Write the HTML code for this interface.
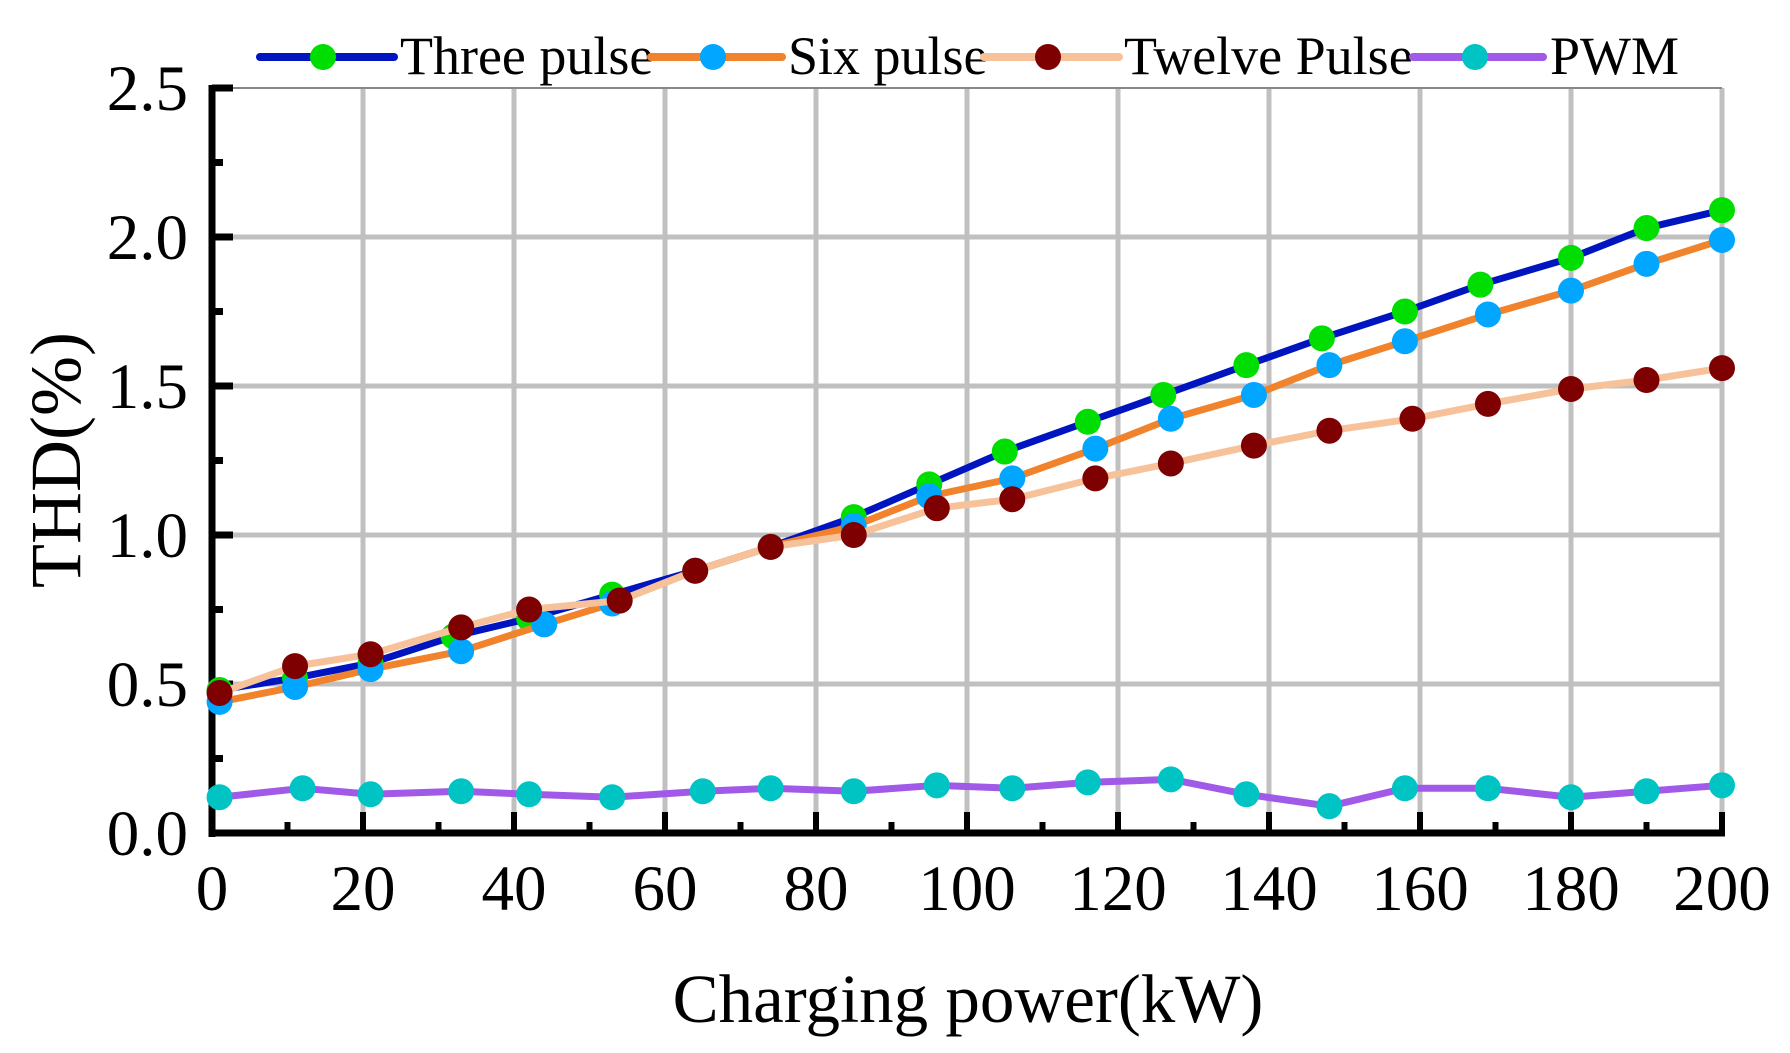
<!DOCTYPE html>
<html><head><meta charset="utf-8"><style>
html,body{margin:0;padding:0;background:#fff}
svg{display:block;font-family:"Liberation Serif",serif}
</style></head><body>
<svg id="chart" width="1790" height="1053" viewBox="0 0 1790 1053" xmlns="http://www.w3.org/2000/svg">
<g id="grid"></g>
<g id="axes"></g>
<g id="series"></g>
<g id="legend"></g>
<text x="968" y="1022" font-size="69" text-anchor="middle">Charging power(kW)</text>
<text transform="translate(80,460) rotate(-90)" font-size="72" text-anchor="middle">THD(%)</text>
</svg>
<script>
const xTicks=[0,20,40,60,80,100,120,140,160,180,200];
const yTicks=[0.0,0.5,1.0,1.5,2.0,2.5];
const seriesNames=["Three pulse","Six pulse","Twelve Pulse","PWM"];
const threeX=[1,11,21,32,42,53,64,74,85,95,105,116,126,137,147,158,168,180,190,200];
const threeY=[0.48,0.52,0.57,0.66,0.72,0.80,0.88,0.96,1.06,1.17,1.28,1.38,1.47,1.57,1.66,1.75,1.84,1.93,2.03,2.09];
const sixX=[1,11,21,33,44,53,64,74,85,95,106,117,127,138,148,158,169,180,190,200];
const sixY=[0.44,0.49,0.55,0.61,0.70,0.77,0.88,0.96,1.03,1.13,1.19,1.29,1.39,1.47,1.57,1.65,1.74,1.82,1.91,1.99];
const twelveX=[1,11,21,33,42,54,64,74,85,96,106,117,127,138,148,159,169,180,190,200];
const twelveY=[0.47,0.56,0.60,0.69,0.75,0.78,0.88,0.96,1.00,1.09,1.12,1.19,1.24,1.30,1.35,1.39,1.44,1.49,1.52,1.56];
const pwmX=[1,12,21,33,42,53,65,74,85,96,106,116,127,137,148,158,169,180,190,200];
const pwmY=[0.12,0.15,0.13,0.14,0.13,0.12,0.14,0.15,0.14,0.16,0.15,0.17,0.18,0.13,0.09,0.15,0.15,0.12,0.14,0.16];

const L=212,R=1722,T=88,B=833;
const sx=v=>L+(v/200)*(R-L);
const sy=v=>B-(v/2.5)*(B-T);
const NS="http://www.w3.org/2000/svg";
function mk(tag,attrs,parent){const e=document.createElementNS(NS,tag);for(const k in attrs)e.setAttribute(k,attrs[k]);parent.appendChild(e);return e;}
const grid=document.getElementById('grid'),axes=document.getElementById('axes'),ser=document.getElementById('series'),leg=document.getElementById('legend');

xTicks.forEach(v=>{if(v===0)return;const l=mk('line',{x1:sx(v),x2:sx(v),y1:T,y2:B,stroke:'#c0c0c0','stroke-width':5},grid);

});
yTicks.forEach(v=>{if(v===0)return;const l=mk('line',{x1:L,x2:R,y1:sy(v),y2:sy(v),stroke:v===2.5?'#888':'#c0c0c0','stroke-width':v===2.5?2:5},grid);

});

let a=mk('line',{x1:L,x2:L,y1:T-3,y2:B+4,stroke:'#000','stroke-width':7},axes);


a=mk('line',{x1:L-3,x2:R+3,y1:B,y2:B,stroke:'#000','stroke-width':7},axes);


for(let v=0;v<=2.5001;v+=0.25){const maj=Math.abs(v*2-Math.round(v*2))<1e-6;
 const t=mk('line',{x1:L,x2:L+(maj?21:11),y1:sy(v),y2:sy(v),stroke:'#000','stroke-width':7},axes);
 
 }
for(let v=0;v<=200;v+=10){const maj=v%20===0;
 const t=mk('line',{x1:sx(v),x2:sx(v),y1:B,y2:B-(maj?21:11),stroke:'#000','stroke-width':6},axes);
 
 }
yTicks.forEach(v=>{const t=mk('text',{x:188,y:sy(v)+22,'font-size':65,'text-anchor':'end'},axes);t.textContent=v.toFixed(1);
 
 });
xTicks.forEach(v=>{const t=mk('text',{x:sx(v),y:910,'font-size':65,'text-anchor':'middle'},axes);t.textContent=v;
 
 });

const defs=[
 {n:'three-pulse',xs:threeX,ys:threeY,line:'#0015bf',mark:'#00dd00'},
 {n:'six-pulse',xs:sixX,ys:sixY,line:'#f0832c',mark:'#00a6ff'},
 {n:'twelve-pulse',xs:twelveX,ys:twelveY,line:'#f7c29a',mark:'#7e0000'},
 {n:'pwm',xs:pwmX,ys:pwmY,line:'#a15ae8',mark:'#00c4c4'}];
defs.forEach(d=>{const g=mk('g',{},ser);
 
 
 const pts=d.xs.map((x,i)=>sx(x)+','+sy(d.ys[i])).join(' ');
 const pl=mk('polyline',{points:pts,fill:'none',stroke:d.line,'stroke-width':7,'stroke-linejoin':'round'},g);
 
 
 d.xs.forEach((x,i)=>{const c=mk('circle',{cx:sx(x),cy:sy(d.ys[i]),r:13,fill:d.mark},g);
  
  });
});

const legPos=[[260,394,323,400],[651,782,713,788],[984,1119,1048,1124],[1413,1543,1475,1550]];
defs.forEach((d,i)=>{const p=legPos[i];const g=mk('g',{},leg);
 
 
 mk('line',{x1:p[0],x2:p[1],y1:57,y2:57,stroke:d.line,'stroke-width':8,'stroke-linecap':'round'},g);
 mk('circle',{cx:p[2],cy:57,r:13,fill:d.mark},g);
 const t=mk('text',{x:p[3],y:74,'font-size':54},g);t.textContent=seriesNames[i];});
</script>
</body></html>
